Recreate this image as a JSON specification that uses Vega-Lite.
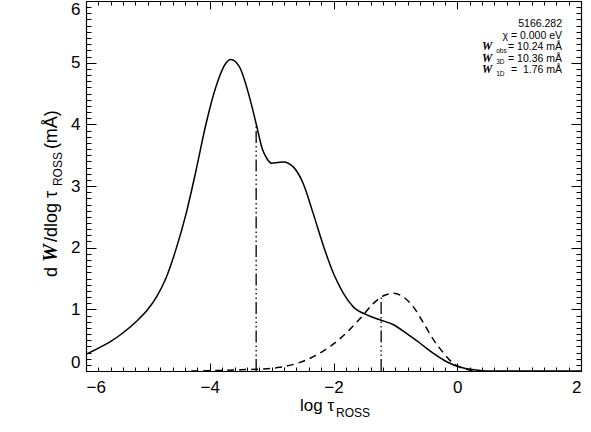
{
 "$schema": "https://vega.github.io/schema/vega-lite/v6.json",
 "width": 495, "height": 370,
 "autosize": {"type": "none"},
 "padding": {"left": 86, "top": 1, "right": 10, "bottom": 61},
 "background": "white",
 "datasets": {
  "curves": [
   {"x": -6.0, "y": 0.27, "s": "3D"}, {"x": -5.8, "y": 0.37, "s": "3D"}, {"x": -5.6, "y": 0.48, "s": "3D"},
   {"x": -5.4, "y": 0.62, "s": "3D"}, {"x": -5.2, "y": 0.79, "s": "3D"}, {"x": -5.0, "y": 1.0, "s": "3D"},
   {"x": -4.85, "y": 1.22, "s": "3D"}, {"x": -4.71, "y": 1.50, "s": "3D"},
   {"x": -4.55, "y": 1.96, "s": "3D"}, {"x": -4.38, "y": 2.56, "s": "3D"}, {"x": -4.22, "y": 3.26, "s": "3D"},
   {"x": -4.06, "y": 4.01, "s": "3D"}, {"x": -3.90, "y": 4.61, "s": "3D"}, {"x": -3.74, "y": 4.99, "s": "3D"},
   {"x": -3.66, "y": 5.05, "s": "3D"}, {"x": -3.52, "y": 4.93, "s": "3D"}, {"x": -3.36, "y": 4.45, "s": "3D"},
   {"x": -3.25, "y": 4.01, "s": "3D"}, {"x": -3.15, "y": 3.60, "s": "3D"}, {"x": -3.08, "y": 3.45, "s": "3D"},
   {"x": -3.0, "y": 3.37, "s": "3D"}, {"x": -2.9, "y": 3.38, "s": "3D"}, {"x": -2.81, "y": 3.39, "s": "3D"},
   {"x": -2.65, "y": 3.31, "s": "3D"}, {"x": -2.49, "y": 3.04, "s": "3D"}, {"x": -2.33, "y": 2.56, "s": "3D"},
   {"x": -2.16, "y": 2.02, "s": "3D"}, {"x": -2.0, "y": 1.58, "s": "3D"}, {"x": -1.84, "y": 1.26, "s": "3D"},
   {"x": -1.68, "y": 1.04, "s": "3D"}, {"x": -1.46, "y": 0.91, "s": "3D"}, {"x": -1.25, "y": 0.83, "s": "3D"},
   {"x": -1.03, "y": 0.75, "s": "3D"}, {"x": -0.82, "y": 0.61, "s": "3D"}, {"x": -0.60, "y": 0.45, "s": "3D"},
   {"x": -0.39, "y": 0.29, "s": "3D"}, {"x": -0.17, "y": 0.15, "s": "3D"}, {"x": 0.05, "y": 0.06, "s": "3D"},
   {"x": 0.27, "y": 0.02, "s": "3D"}, {"x": 0.5, "y": 0.0, "s": "3D"}, {"x": 2.0, "y": 0.0, "s": "3D"},
   {"x": -4.3, "y": 0.0, "s": "1D"}, {"x": -3.8, "y": 0.01, "s": "1D"}, {"x": -3.5, "y": 0.02, "s": "1D"},
   {"x": -3.19, "y": 0.03, "s": "1D"}, {"x": -2.87, "y": 0.06, "s": "1D"}, {"x": -2.54, "y": 0.14, "s": "1D"},
   {"x": -2.22, "y": 0.29, "s": "1D"}, {"x": -1.89, "y": 0.53, "s": "1D"}, {"x": -1.57, "y": 0.85, "s": "1D"},
   {"x": -1.35, "y": 1.10, "s": "1D"}, {"x": -1.19, "y": 1.22, "s": "1D"}, {"x": -1.03, "y": 1.26, "s": "1D"},
   {"x": -0.87, "y": 1.20, "s": "1D"}, {"x": -0.71, "y": 1.04, "s": "1D"}, {"x": -0.54, "y": 0.77, "s": "1D"},
   {"x": -0.38, "y": 0.50, "s": "1D"}, {"x": -0.22, "y": 0.29, "s": "1D"}, {"x": -0.06, "y": 0.12, "s": "1D"},
   {"x": 0.11, "y": 0.04, "s": "1D"}, {"x": 0.32, "y": 0.0, "s": "1D"}, {"x": 0.5, "y": 0.0, "s": "1D"}
  ],
  "markers": [
   {"x": -3.25, "y0": 0, "y1": 4.01},
   {"x": -1.23, "y0": 0, "y1": 1.19}
  ],
  "labels": [
   {"x": 1.693, "y": 5.575, "t": "5166.282", "k": "ann"},
   {"x": 1.693, "y": 5.389, "t": "χ = 0.000 eV", "k": "ann"},
   {"x": 1.693, "y": 5.203, "t": "= 10.24 mÅ", "k": "ann"},
   {"x": 1.693, "y": 5.016, "t": "= 10.36 mÅ", "k": "ann"},
   {"x": 1.693, "y": 4.830, "t": "=\u00a0\u00a01.76 mÅ", "k": "ann"},
   {"x": 0.40, "y": 5.203, "t": "W", "k": "annW"},
   {"x": 0.40, "y": 5.016, "t": "W", "k": "annW"},
   {"x": 0.40, "y": 4.830, "t": "W", "k": "annW"},
   {"x": 0.63, "y": 5.163, "t": "obs", "k": "annSub"},
   {"x": 0.63, "y": 4.976, "t": "3D", "k": "annSub"},
   {"x": 0.63, "y": 4.790, "t": "1D", "k": "annSub"},
   {"x": -2.541, "y": -0.648, "t": "log τ", "k": "xt"},
   {"x": -1.96, "y": -0.746, "t": "ROSS", "k": "xtSub"},
   {"x": -6.469, "y": 1.523, "t": "d", "k": "yt"},
   {"x": -6.469, "y": 1.767, "t": "W", "k": "ytW"},
   {"x": -6.469, "y": 2.091, "t": "/dlog τ", "k": "yt"},
   {"x": -6.388, "y": 2.998, "t": "ROSS", "k": "ytSub"},
   {"x": -6.469, "y": 3.598, "t": "(mÅ)", "k": "yt"}
  ]
 },
 "layer": [
  {
   "data": {"name": "curves"},
   "transform": [{"filter": "datum.s === '3D'"}],
   "mark": {"type": "line", "color": "black", "strokeWidth": 1.5, "interpolate": "monotone"},
   "encoding": {
    "x": {"field": "x", "type": "quantitative", "scale": {"domain": [-6, 2], "nice": false, "zero": false},
     "axis": {"orient": "bottom",
      "values": [-6,-5.8,-5.6,-5.4,-5.2,-5,-4.8,-4.6,-4.4,-4.2,-4,-3.8,-3.6,-3.4,-3.2,-3,-2.8,-2.6,-2.4,-2.2,-2,-1.8,-1.6,-1.4,-1.2,-1,-0.8,-0.6,-0.4,-0.2,0,0.2,0.4,0.6,0.8,1,1.2,1.4,1.6,1.8,2],
      "tickSize": {"condition": {"test": "abs(datum.value/2-round(datum.value/2))<0.001", "value": -8}, "value": -4},
      "labelExpr": "abs(datum.value/2-round(datum.value/2))<0.001 ? format(datum.value,'d') : ''",
      "labelPadding": 16}},
    "y": {"field": "y", "type": "quantitative", "scale": {"domain": [0, 6], "nice": false, "zero": false},
     "axis": {"orient": "left",
      "values": [0,0.1,0.2,0.3,0.4,0.5,0.6,0.7,0.8,0.9,1,1.1,1.2,1.3,1.4,1.5,1.6,1.7,1.8,1.9,2,2.1,2.2,2.3,2.4,2.5,2.6,2.7,2.8,2.9,3,3.1,3.2,3.3,3.4,3.5,3.6,3.7,3.8,3.9,4,4.1,4.2,4.3,4.4,4.5,4.6,4.7,4.8,4.9,5,5.1,5.2,5.3,5.4,5.5,5.6,5.7,5.8,5.9,6],
      "tickSize": {"condition": {"test": "abs(datum.value-round(datum.value))<0.001", "value": -10}, "value": -5},
      "labelExpr": "abs(datum.value-round(datum.value))<0.001 ? format(datum.value,'d') : ''",
      "labelPadding": 16, "labelFlush": true}}
   }
  },
  {
   "data": {"name": "curves"},
   "transform": [{"filter": "datum.s === '3D'"}],
   "mark": {"type": "point", "opacity": 0},
   "encoding": {
    "x": {"field": "x", "type": "quantitative", "scale": {"domain": [-6, 2], "nice": false, "zero": false},
     "axis": {"orient": "top", "labels": false,
      "values": [-6,-5.8,-5.6,-5.4,-5.2,-5,-4.8,-4.6,-4.4,-4.2,-4,-3.8,-3.6,-3.4,-3.2,-3,-2.8,-2.6,-2.4,-2.2,-2,-1.8,-1.6,-1.4,-1.2,-1,-0.8,-0.6,-0.4,-0.2,0,0.2,0.4,0.6,0.8,1,1.2,1.4,1.6,1.8,2],
      "tickSize": {"condition": {"test": "abs(datum.value/2-round(datum.value/2))<0.001", "value": -8}, "value": -4}}},
    "y": {"field": "y", "type": "quantitative", "scale": {"domain": [0, 6], "nice": false, "zero": false},
     "axis": {"orient": "right", "labels": false,
      "values": [0,0.1,0.2,0.3,0.4,0.5,0.6,0.7,0.8,0.9,1,1.1,1.2,1.3,1.4,1.5,1.6,1.7,1.8,1.9,2,2.1,2.2,2.3,2.4,2.5,2.6,2.7,2.8,2.9,3,3.1,3.2,3.3,3.4,3.5,3.6,3.7,3.8,3.9,4,4.1,4.2,4.3,4.4,4.5,4.6,4.7,4.8,4.9,5,5.1,5.2,5.3,5.4,5.5,5.6,5.7,5.8,5.9,6],
      "tickSize": {"condition": {"test": "abs(datum.value-round(datum.value))<0.001", "value": -10}, "value": -5}}}
   }
  },
  {
   "data": {"name": "curves"},
   "transform": [{"filter": "datum.s === '1D'"}],
   "mark": {"type": "line", "color": "black", "strokeWidth": 1.5, "strokeDash": [7, 5], "interpolate": "monotone"},
   "encoding": {
    "x": {"field": "x", "type": "quantitative", "scale": {"domain": [-6, 2], "nice": false, "zero": false}, "axis": null},
    "y": {"field": "y", "type": "quantitative", "scale": {"domain": [0, 6], "nice": false, "zero": false}, "axis": null}
   }
  },
  {
   "data": {"name": "markers"},
   "mark": {"type": "rule", "color": "black", "strokeWidth": 1.3, "strokeDash": [12, 3, 1.5, 3, 1.5, 3, 1.5, 3]},
   "encoding": {
    "x": {"field": "x", "type": "quantitative", "scale": {"domain": [-6, 2], "nice": false, "zero": false}, "axis": null},
    "y": {"field": "y0", "type": "quantitative", "scale": {"domain": [0, 6], "nice": false, "zero": false}, "axis": null},
    "y2": {"field": "y1"}
   }
  },
  {
   "data": {"name": "labels"},
   "transform": [{"filter": "datum.k === 'ann'"}],
   "mark": {"type": "text", "align": "right", "baseline": "alphabetic", "font": "Liberation Sans", "fontSize": 10.5, "color": "black"},
   "encoding": {
    "x": {"field": "x", "type": "quantitative", "scale": {"domain": [-6, 2], "nice": false, "zero": false}, "axis": null},
    "y": {"field": "y", "type": "quantitative", "scale": {"domain": [0, 6], "nice": false, "zero": false}, "axis": null},
    "text": {"field": "t"}
   }
  },
  {
   "data": {"name": "labels"},
   "transform": [{"filter": "datum.k === 'annW'"}],
   "mark": {"type": "text", "align": "left", "baseline": "alphabetic", "font": "Liberation Serif", "fontStyle": "italic", "fontWeight": "bold", "fontSize": 11.5, "color": "black"},
   "encoding": {
    "x": {"field": "x", "type": "quantitative", "scale": {"domain": [-6, 2], "nice": false, "zero": false}, "axis": null},
    "y": {"field": "y", "type": "quantitative", "scale": {"domain": [0, 6], "nice": false, "zero": false}, "axis": null},
    "text": {"field": "t"}
   }
  },
  {
   "data": {"name": "labels"},
   "transform": [{"filter": "datum.k === 'annSub'"}],
   "mark": {"type": "text", "align": "left", "baseline": "alphabetic", "font": "Liberation Sans", "fontSize": 6.5, "color": "black"},
   "encoding": {
    "x": {"field": "x", "type": "quantitative", "scale": {"domain": [-6, 2], "nice": false, "zero": false}, "axis": null},
    "y": {"field": "y", "type": "quantitative", "scale": {"domain": [0, 6], "nice": false, "zero": false}, "axis": null},
    "text": {"field": "t"}
   }
  },
  {
   "data": {"name": "labels"},
   "transform": [{"filter": "datum.k === 'xt'"}],
   "mark": {"type": "text", "align": "left", "baseline": "alphabetic", "font": "Liberation Sans", "fontSize": 17, "color": "black"},
   "encoding": {
    "x": {"field": "x", "type": "quantitative", "scale": {"domain": [-6, 2], "nice": false, "zero": false}, "axis": null},
    "y": {"field": "y", "type": "quantitative", "scale": {"domain": [0, 6], "nice": false, "zero": false}, "axis": null},
    "text": {"field": "t"}
   }
  },
  {
   "data": {"name": "labels"},
   "transform": [{"filter": "datum.k === 'xtSub'"}],
   "mark": {"type": "text", "align": "left", "baseline": "alphabetic", "font": "Liberation Sans", "fontSize": 12, "color": "black"},
   "encoding": {
    "x": {"field": "x", "type": "quantitative", "scale": {"domain": [-6, 2], "nice": false, "zero": false}, "axis": null},
    "y": {"field": "y", "type": "quantitative", "scale": {"domain": [0, 6], "nice": false, "zero": false}, "axis": null},
    "text": {"field": "t"}
   }
  },
  {
   "data": {"name": "labels"},
   "transform": [{"filter": "datum.k === 'yt'"}],
   "mark": {"type": "text", "align": "left", "baseline": "alphabetic", "angle": 270, "font": "Liberation Sans", "fontSize": 18, "color": "black"},
   "encoding": {
    "x": {"field": "x", "type": "quantitative", "scale": {"domain": [-6, 2], "nice": false, "zero": false}, "axis": null},
    "y": {"field": "y", "type": "quantitative", "scale": {"domain": [0, 6], "nice": false, "zero": false}, "axis": null},
    "text": {"field": "t"}
   }
  },
  {
   "data": {"name": "labels"},
   "transform": [{"filter": "datum.k === 'ytW'"}],
   "mark": {"type": "text", "align": "left", "baseline": "alphabetic", "angle": 270, "font": "Liberation Serif", "fontStyle": "italic", "fontWeight": "bold", "fontSize": 20, "color": "black"},
   "encoding": {
    "x": {"field": "x", "type": "quantitative", "scale": {"domain": [-6, 2], "nice": false, "zero": false}, "axis": null},
    "y": {"field": "y", "type": "quantitative", "scale": {"domain": [0, 6], "nice": false, "zero": false}, "axis": null},
    "text": {"field": "t"}
   }
  },
  {
   "data": {"name": "labels"},
   "transform": [{"filter": "datum.k === 'ytSub'"}],
   "mark": {"type": "text", "align": "left", "baseline": "alphabetic", "angle": 270, "font": "Liberation Sans", "fontSize": 12, "color": "black"},
   "encoding": {
    "x": {"field": "x", "type": "quantitative", "scale": {"domain": [-6, 2], "nice": false, "zero": false}, "axis": null},
    "y": {"field": "y", "type": "quantitative", "scale": {"domain": [0, 6], "nice": false, "zero": false}, "axis": null},
    "text": {"field": "t"}
   }
  }
 ],
 "resolve": {"axis": {"x": "independent", "y": "independent"}},
 "config": {
  "view": {"stroke": null},
  "axis": {"domainColor": "black", "domainWidth": 1.2, "tickColor": "black", "tickWidth": 1,
   "labelColor": "black", "labelFont": "Liberation Sans", "labelFontSize": 17,
   "grid": false, "labelOverlap": false, "labelBound": false, "title": null}
 }
}
